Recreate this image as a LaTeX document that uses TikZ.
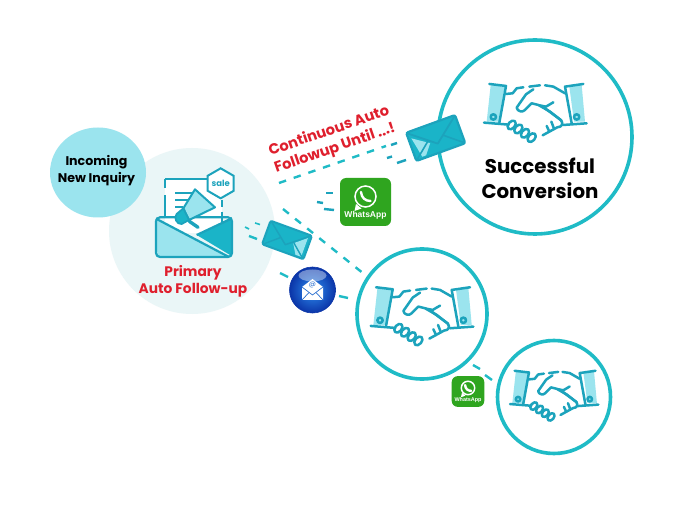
\documentclass[tikz,border=0pt]{standalone}
\usepackage{fontspec}
\setmainfont{Poppins}
\newfontfamily\wafont{Liberation Sans}
\usetikzlibrary{shapes.geometric}
\definecolor{teal1}{HTML}{1FBBC6}
\definecolor{teal2}{HTML}{1CA3BC}
\definecolor{tealfill}{HTML}{1AB4C8}
\definecolor{light1}{HTML}{9BE4EE}
\definecolor{pale}{HTML}{EAF6F7}
\definecolor{redtxt}{HTML}{DF1F2D}
\definecolor{wagreen}{HTML}{2FA51F}
\definecolor{globein}{HTML}{2E8CEE}
\definecolor{globeout}{HTML}{0B35A8}
\definecolor{globeline}{HTML}{2A6FD0}
\tikzset{
  x=1pt,y=-1pt,
  ring/.style={circle,draw=teal1,line width=3.6pt,fill=white,inner sep=0pt},
  dashA/.style={draw=teal1,line width=2.4pt,dash pattern=on 7.5pt off 8pt},
  dashS/.style={draw=teal1,line width=2.4pt},
  dashD/.style={draw=teal2,line width=2.4pt},
  hand/.style={draw=teal2,line width=2.5pt,line cap=round,line join=round,fill=none},
  redlabel/.style={text=redtxt,font=\bfseries\fontsize{13.8}{17}\selectfont,align=center,inner sep=0pt},
  pics/shake/.style={code={
    \begin{scope}[shift={(-195,-130)}]
      \fill[light1] (62,46) -- (104,50) -- (86,155) -- (50,155) -- cycle;
      \fill[light1] (298,50) -- (335,45) -- (345,155) -- (312,155) -- cycle;
      \draw[hand] (58,42) -- (108,48) -- (88,158);
      \draw[hand] (42,158) -- (116,164);
      \draw[hand] (70,141) circle (8);
      \draw[hand] (340,42) -- (285,50) -- (305,160);
      \draw[hand] (350,160) -- (280,165);
      \draw[hand] (320,141) circle (8);
      \draw[hand] (108,72) -- (128,70) -- (140,55) -- (160,52);
      \draw[hand] (178,50) -- (210,46);
      \draw[hand] (225,46) -- (250,50) -- (285,70);
      \draw[hand] (190,58) -- (168,73) -- (140,113) .. controls (142,125) and (158,128) .. (165,120) -- (185,100) -- (205,105) -- (240,125) -- (272,150) .. controls (282,160) and (275,172) .. (262,172) -- (218,196);
      \draw[hand] (250,97) -- (228,110) -- (208,106);
      \draw[hand] (230,168) -- (238,185);
      \draw[hand] (244,155) -- (252,176);
      \draw[hand] (225,115) -- (275,152);
      \draw[hand,rotate around={50:(125,165)}] (125,165) ellipse (15 and 10);
      \draw[hand,rotate around={50:(145,177)}] (145,177) ellipse (15 and 10);
      \draw[hand,rotate around={50:(165,190)}] (165,190) ellipse (15 and 10);
      \draw[hand,rotate around={50:(185,203)}] (185,203) ellipse (15 and 10);
    \end{scope}
  }},
  pics/mailA/.style={code={
    \fill[tealfill,draw=tealfill,line width=1pt,line join=round] (-25,-14) rectangle (25,14);
    \fill[light1] (-23,-8) -- (-7,3) -- (-15,13) -- (-19,13) -- cycle;
    \draw[teal2,line width=1.8pt,line join=round] (-25,-14) -- (0,6) -- (25,-14);
    \draw[teal2,line width=1.6pt] (-25,14) -- (-8,0);
    \draw[teal2,line width=1.6pt] (25,14) -- (8,0);
    \draw[teal2,line width=2.2pt,rounded corners=2pt] (-26,-15) rectangle (26,15);
  }},
  pics/mailB/.style={code={
    \fill[tealfill,draw=tealfill,line width=1pt,line join=round] (-21,-12) rectangle (21,12);
    \fill[light1] (19,-9) -- (7,1) -- (13,11) -- (19,11) -- cycle;
    \draw[teal2,line width=1.5pt,line join=round] (-21,-12) -- (0,5) -- (21,-12);
    \draw[teal2,line width=1.4pt] (-21,12) -- (-7,0);
    \draw[teal2,line width=1.4pt] (21,12) -- (7,0);
    \draw[teal2,line width=2pt,rounded corners=2pt] (-22,-12.5) rectangle (22,12.5);
  }},
  pics/wapp/.style={code={
    \fill[wagreen,rounded corners=6pt] (-25.5,-24) rectangle (25.5,24);
    \draw[white,line width=1.5pt] (0,-5.5) circle (10.5);
    \fill[white] (-9.5,2) -- (-11,9) -- (-4,6.5) -- cycle;
    \draw[white,line width=2.4pt,line cap=round] (-4.5,-10) .. controls (-4,-4) and (0,-1) .. (5,-1);
    \node[transform shape,text=white,inner sep=0pt,font=\wafont\bfseries\fontsize{8.5}{10}\selectfont] (wt) at (0,13) {WhatsApp};
  }},
}
\begin{document}
\begin{tikzpicture}
\useasboundingbox (0,0) rectangle (690,518);
\fill[white] (0,0) rectangle (690,518);
% circles
\node[circle,fill=pale,minimum size=166pt,inner sep=0pt] (primary) at (192,231) {};
\node[ellipse,fill=light1,minimum width=96pt,minimum height=90pt,inner sep=0pt] (inquiry) at (98,172.5) {};
\node[inner sep=0pt,align=center,font=\bfseries\fontsize{12.6}{17}\selectfont] (itext) at (96.5,170.5) {Incoming\\New Inquiry};
\node[ring,minimum size=194pt] (bigring) at (535,137) {};
\node[ring,minimum size=130pt] (midring) at (422,314) {};
\node[ring,minimum size=113pt] (smallring) at (554,397) {};
\pic (hs1) at (535,113.3) [scale=1/3] {shake};
\pic (hs2) at (421.7,316.6) [scale=1/3] {shake};
\pic (hs3) at (553.9,396) [scale=0.2867] {shake};
% primary icon
\begin{scope}[shift={(40,120)},scale=1/3]
  \fill[white] (375,178) rectangle (545,340);
  \draw[teal2,line width=2pt] (375,178) -- (505,178);
  \draw[teal2,line width=2pt] (375,178) -- (375,205);
  \draw[teal2,line width=2pt] (375,225) -- (375,290);
  \draw[teal2,line width=2pt] (545,240) -- (545,262);
  \draw[teal2,line width=2pt] (545,275) -- (545,310);
  \draw[teal2,line width=1.8pt] (405,218) -- (470,218);
  \draw[teal2,line width=1.8pt] (405,240) -- (445,240);
  \draw[teal2,line width=1.8pt] (405,262) -- (430,262);
  % envelope
  \fill[tealfill] (470,345) -- (575,292) -- (575,408) -- cycle;
  \fill[light1] (350,298) -- (565,410) -- (352,410) -- cycle;
  \draw[teal2,line width=2.2pt,rounded corners=4pt] (348,292) rectangle (576,411);
  \draw[teal2,line width=2.2pt] (348,296) -- (565,410);
  \draw[teal2,line width=2.2pt] (470,345) -- (576,295);
  % megaphone
  \fill[light1,draw=teal2,line width=2pt,line join=round] (465,208) -- (525,262) -- (447,300) -- (430,265) -- cycle;
  \fill[tealfill,draw=teal2,line width=1.8pt,line join=round] (430,265) -- (447,300) -- (425,312) .. controls (410,314) and (400,292) .. (410,282) -- cycle;
  \draw[teal2,line width=3.4pt,line cap=round] (448,304) -- (474,322);
  % hexagon
  \node[regular polygon,regular polygon sides=6,shape border rotate=30,draw=teal2,fill=white,line width=2pt,minimum size=30pt,inner sep=0pt,text=teal2,font=\bfseries\fontsize{8.5}{10}\selectfont] (sale) at (542,190) {sale};
\end{scope}
\node[redlabel] (ptext) at (193,281) {Primary\\Auto Follow-up};
\node[redlabel,rotate=19,font=\bfseries\fontsize{14.6}{18}\selectfont] (ctext) at (332,140) {Continuous Auto\\Followup Until ...!};
\node[inner sep=0pt,align=center,font=\bfseries\fontsize{19.8}{25.5}\selectfont] (stext) at (540,178.5) {Successful\\Conversion};
% connector end points
\coordinate (a1) at (279,183);  \coordinate (a2) at (386,146);
\coordinate (a3) at (391,145);  \coordinate (a4) at (397,143);
\coordinate (a5) at (387,158);  \coordinate (a6) at (392,156.5);
\coordinate (a7) at (397,163);  \coordinate (a8) at (406,160);
\coordinate (b1) at (326,193);  \coordinate (b2) at (333,193);
\coordinate (b3) at (317,202);  \coordinate (b4) at (323,203);
\coordinate (b5) at (324,209);  \coordinate (b6) at (334,210);
\coordinate (c1) at (283,209);  \coordinate (c2) at (364,274);
\coordinate (d1) at (245,227);  \coordinate (d2) at (249,229);
\coordinate (d3) at (255,223);  \coordinate (d4) at (260,224.5);
\coordinate (d5) at (249,236);  \coordinate (d6) at (257,239);
\coordinate (e1) at (280,273);  \coordinate (e2) at (288,277);
\coordinate (e3) at (339,296);  \coordinate (e4) at (348,298);
\coordinate (f1) at (473,365);  \coordinate (f2) at (480,369);
\coordinate (f3) at (485,375);  \coordinate (f4) at (492,380);
\draw[dashA] (a1) -- (a2);
\draw[dashD] (a3) -- (a4);
\draw[dashD] (a5) -- (a6);
\draw[dashD] (a7) -- (a8);
\draw[dashD] (b1) -- (b2);
\draw[dashD] (b3) -- (b4);
\draw[dashD] (b5) -- (b6);
\draw[dashA] (c1) -- (c2);
\draw[dashS,line width=1.6pt] (d1) -- (d2);
\draw[dashS,line width=1.6pt] (d3) -- (d4);
\draw[dashS] (d5) -- (d6);
\draw[dashS] (e1) -- (e2);
\draw[dashS] (e3) -- (e4);
\draw[dashS] (f1) -- (f2);
\draw[dashS] (f3) -- (f4);
% envelopes
\pic (mail1) at (435.7,138) [rotate=20] {mailA};
\pic (mail2) at (287,240) [rotate=-20] {mailB};
% whatsapp
\pic (wa1) at (365.5,202) {wapp};
\pic (wa2) at (468,391.5) [scale=0.64] {wapp};
% email globe
\node[circle,minimum size=46pt,inner sep=0pt,shade,inner color=globein,outer color=globeout,draw=globeout,line width=.6pt] (globe) at (312.5,290) {};
\fill[white,opacity=.4] (312.5,275.5) ellipse (14 and 6);
\fill[white] (302,287) -- (312.5,279) -- (323,287) -- (323,300) -- (302,300) -- cycle;
\draw[globeline,line width=.7pt,line join=round] (302,287) -- (312.5,295) -- (323,287);
\draw[globeline,line width=.7pt] (302,300) -- (309,292.5);
\draw[globeline,line width=.7pt] (323,300) -- (316,292.5);
\node[inner sep=0pt,text=globeline,font=\fontsize{7}{8}\selectfont] (at) at (312.5,285) {@};
\end{tikzpicture}
\end{document}
